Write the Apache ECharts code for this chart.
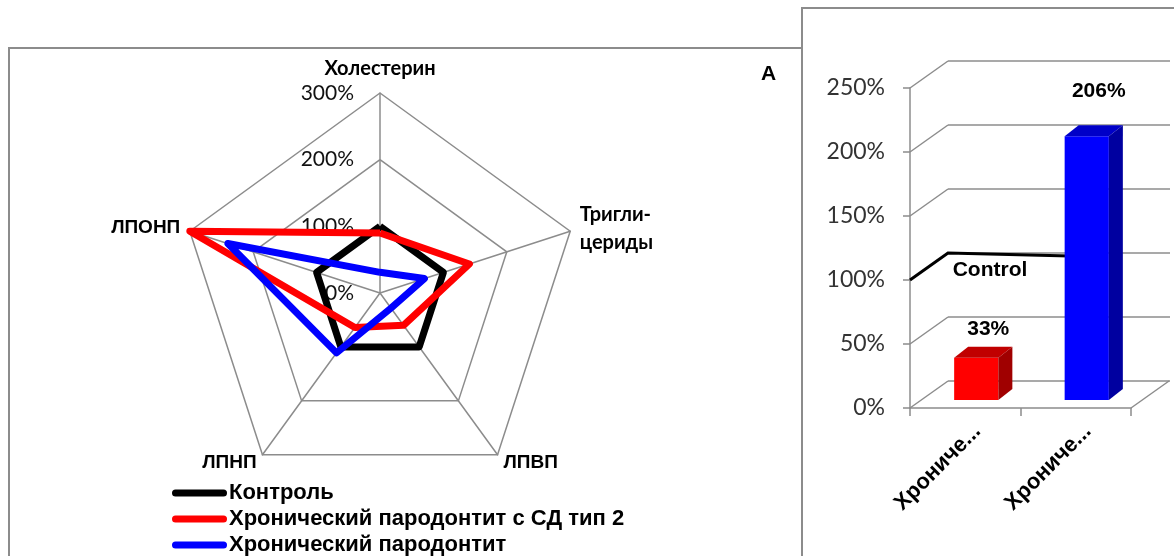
<!DOCTYPE html>
<html>
<head>
<meta charset="utf-8">
<script src="https://cdn.jsdelivr.net/npm/echarts@6/dist/echarts.min.js"></script>
<style>
html,body{margin:0;padding:0;background:#fff;}
#chart{width:1174px;height:556px;}
</style>
</head>
<body>
<div id="chart"></div>
<script>
// ---------- data (clockwise order from the top) ----------
const radarIndicators = ['Холестерин', 'Тригли-\nцериды', 'ЛПВП', 'ЛПНП', 'ЛПОНП'];
const radarMax = 300;
const seriesNames = ['Контроль', 'Хронический пародонтит с СД тип 2', 'Хронический пародонтит'];
const controlValues = [100, 100, 100, 100, 100];
const diabetesValues = [90, 141, 60, 64, 300];
const periodontitisValues = [31, 70, 28, 111, 240];

const barCategories = ['Хронический пародонтит с СД тип 2', 'Хронический пародонтит'];
const barValues = [33, 206];
const controlLevel = 100;
const barAxisMax = 250;
const barAxisStep = 50;
const barTicks = [0, 50, 100, 150, 200, 250];

// ECharts lays radar indicators out counter-clockwise; reorder so they run clockwise
const cwOrder = [0, 4, 3, 2, 1];
const cw = arr => cwOrder.map(k => arr[k]);

// ---------- styles ----------
const ARIAL = '"Liberation Sans", Arial, sans-serif';
const CALIBRI = 'Lato, Carlito, "Open Sans", sans-serif';
const GRID_GREY = '#8c8c8c';
const lineColors = ['#000000', '#ff0000', '#0000ff'];
const barFace = [
  {front: '#ff0000', top: '#c00000', side: '#a00000'},
  {front: '#0000ff', top: '#0000c8', side: '#0000a0'}
];
const DEPTH = {wallDx: 38, wallDy: -27, barDx: 11, barDy: -8, barDepthDx: 14, barDepthDy: -11};
const labelLift = [29, 45];

const chart = echarts.init(document.getElementById('chart'), null, {renderer: 'canvas'});

const radarSeries = [controlValues, diabetesValues, periodontitisValues].map((vals, s) => ({
  name: seriesNames[s], type: 'radar', symbol: 'none', z: 2 + s,
  itemStyle: {color: lineColors[s]},
  lineStyle: {color: lineColors[s], width: 7, join: 'round', opacity: 1},
  data: [{value: cw(vals), name: seriesNames[s]}]
}));

const option = {
  animation: false,
  backgroundColor: '#ffffff',
  graphic: [
    {type: 'rect', shape: {x: 9, y: 48, width: 793, height: 530}, style: {fill: 'none', stroke: GRID_GREY, lineWidth: 2}, z: 0},
    {type: 'rect', shape: {x: 802, y: 8, width: 420, height: 570}, style: {fill: 'none', stroke: GRID_GREY, lineWidth: 2}, z: 0},
    {type: 'text', left: 761, top: 64, style: {text: 'A', font: 'bold 21px ' + ARIAL, fill: '#000'}}
  ],
  legend: {
    data: seriesNames,
    orient: 'vertical',
    left: 172,
    top: 482,
    height: 90,
    padding: 0,
    itemWidth: 55,
    itemHeight: 7,
    itemGap: 4,
    icon: 'path://M3.5,0 L51.5,0 A3.5,3.5 0 0 1 51.5,7 L3.5,7 A3.5,3.5 0 0 1 3.5,0 Z',
    textStyle: {fontFamily: ARIAL, fontWeight: 'bold', fontSize: 22, lineHeight: 20, color: '#000', padding: [0, 0, 0, -3]},
    selectedMode: false
  },
  radar: {
    center: [380, 293],
    radius: 200,
    startAngle: 90,
    shape: 'polygon',
    splitNumber: 3,
    nameGap: 10,
    indicator: cw(radarIndicators).map((n, i) => {
      const o = {name: n, min: 0, max: radarMax};
      if (i === 0) o.axisLabel = {show: true};
      return o;
    }),
    axisName: {
      formatter: function (name) {
        return (name.indexOf('ЛП') === 0 ? '{a|' : '{c|') + name + '}';
      },
      rich: {
        a: {fontFamily: ARIAL, fontWeight: 'bold', fontSize: 19, color: '#000'},
        c: {fontFamily: CALIBRI, fontWeight: 'bold', fontSize: 20, color: '#000', lineHeight: 28}
      }
    },
    axisLine: {lineStyle: {color: GRID_GREY, width: 1.5}},
    splitLine: {lineStyle: {color: GRID_GREY, width: 1.5}},
    splitArea: {show: false},
    axisTick: {show: false},
    axisLabel: {show: false, formatter: '{value}%', fontFamily: CALIBRI, fontSize: 21, color: '#111', margin: 26}
  },
  grid: [
    {left: 910, right: 43, top: 88, bottom: 148, containLabel: false},
    {left: 948, right: 4, top: 61, bottom: 175, containLabel: false},
    {left: 922, right: 31, top: 88, bottom: 148, containLabel: false}
  ],
  xAxis: [
    {
      gridIndex: 0, type: 'category', data: barCategories,
      axisLine: {lineStyle: {color: GRID_GREY, width: 1.5}},
      axisTick: {show: true, length: 8, interval: 0, lineStyle: {color: GRID_GREY, width: 1.5}},
      axisLabel: {show: false}
    },
    {gridIndex: 1, type: 'category', data: barCategories, show: false},
    {
      gridIndex: 2, type: 'category', data: barCategories,
      axisLine: {show: false}, axisTick: {show: false},
      axisLabel: {
        rotate: 45, margin: 20, interval: 0, fontFamily: ARIAL, fontWeight: 'bold', fontSize: 22, color: '#000',
        formatter: v => v.slice(0, 7) + '...'
      }
    }
  ],
  yAxis: [
    {
      gridIndex: 0, type: 'value', min: 0, max: barAxisMax, interval: barAxisStep,
      axisLine: {show: true, lineStyle: {color: GRID_GREY, width: 1.5}},
      axisTick: {show: true, length: 7, lineStyle: {color: GRID_GREY, width: 1.5}},
      splitLine: {show: false},
      axisLabel: {formatter: '{value}%', fontFamily: CALIBRI, fontSize: 23, color: '#333', margin: 25}
    },
    {
      gridIndex: 1, type: 'value', min: 0, max: barAxisMax, interval: barAxisStep,
      axisLine: {show: false}, axisTick: {show: false}, axisLabel: {show: false},
      splitLine: {show: true, lineStyle: {color: GRID_GREY, width: 1.5}}
    },
    {gridIndex: 2, type: 'value', min: 0, max: barAxisMax, show: false}
  ],
  series: radarSeries.concat([
    {
      // side wall / floor connectors of the 3D frame
      type: 'custom', xAxisIndex: 0, yAxisIndex: 0, z: 1, silent: true,
      data: barTicks.map(v => [0, v]),
      renderItem: function (params, api) {
        const c = api.coord([0, api.value(1)]);
        const band = api.size([1, 0])[0];
        const x0 = c[0] - band / 2;
        const children = [{
          type: 'line',
          shape: {x1: x0, y1: c[1], x2: x0 + DEPTH.wallDx, y2: c[1] + DEPTH.wallDy},
          style: {stroke: GRID_GREY, lineWidth: 1.5}
        }];
        if (api.value(1) === 0) {
          const c1 = api.coord([barCategories.length - 1, 0]);
          const x1 = c1[0] + band / 2;
          children.push({
            type: 'line',
            shape: {x1: x1, y1: c1[1], x2: x1 + DEPTH.wallDx, y2: c1[1] + DEPTH.wallDy},
            style: {stroke: GRID_GREY, lineWidth: 1.5}
          });
        }
        return {type: 'group', children: children};
      }
    },
    {
      // control level line
      type: 'custom', xAxisIndex: 0, yAxisIndex: 0, z: 5, silent: true,
      data: [[0, controlLevel]],
      renderItem: function (params, api) {
        const c = api.coord([0, api.value(1)]);
        const band = api.size([1, 0])[0];
        const x0 = c[0] - band / 2;
        const endX = api.coord([1, 0])[0] - band * 0.2 + DEPTH.barDx + 5;
        return {
          type: 'group',
          children: [
            {
              type: 'polyline',
              shape: {points: [[x0, c[1]], [x0 + DEPTH.wallDx, c[1] + DEPTH.wallDy], [endX, c[1] + DEPTH.wallDy + 3]]},
              style: {stroke: '#000', lineWidth: 3, fill: 'none'}
            },
            {
              type: 'text',
              x: x0 + 80, y: c[1] - 10,
              style: {text: 'Control', font: 'bold 21px ' + ARIAL, fill: '#000', align: 'center', verticalAlign: 'middle'}
            }
          ]
        };
      }
    },
    {
      // 3D bars
      type: 'custom', xAxisIndex: 0, yAxisIndex: 0, z: 6, silent: true,
      data: barValues.map((v, i) => [i, v]),
      renderItem: function (params, api) {
        const i = api.value(0);
        const v = api.value(1);
        const top = api.coord([i, v]);
        const base = api.coord([i, 0]);
        const band = api.size([1, 0])[0];
        const w = band * 0.4;
        const x0 = top[0] - w / 2 + DEPTH.barDx;
        const x1 = x0 + w;
        const yt = top[1] + DEPTH.barDy;
        const yb = base[1] + DEPTH.barDy;
        const dx = DEPTH.barDepthDx, dy = DEPTH.barDepthDy;
        const f = barFace[i];
        return {
          type: 'group',
          children: [
            {type: 'rect', shape: {x: x0, y: yt, width: w, height: yb - yt}, style: {fill: f.front}},
            {type: 'polygon', shape: {points: [[x0, yt], [x0 + dx, yt + dy], [x1 + dx, yt + dy], [x1, yt]]}, style: {fill: f.top}},
            {type: 'polygon', shape: {points: [[x1, yt], [x1 + dx, yt + dy], [x1 + dx, yb + dy], [x1, yb]]}, style: {fill: f.side}},
            {
              type: 'text', x: (x0 + x1) / 2 + 12, y: yt - labelLift[i],
              style: {text: v + '%', font: 'bold 21px ' + ARIAL, fill: '#000', align: 'center', verticalAlign: 'middle'}
            }
          ]
        };
      }
    }
  ])
};
chart.setOption(option);
</script>
</body>
</html>
